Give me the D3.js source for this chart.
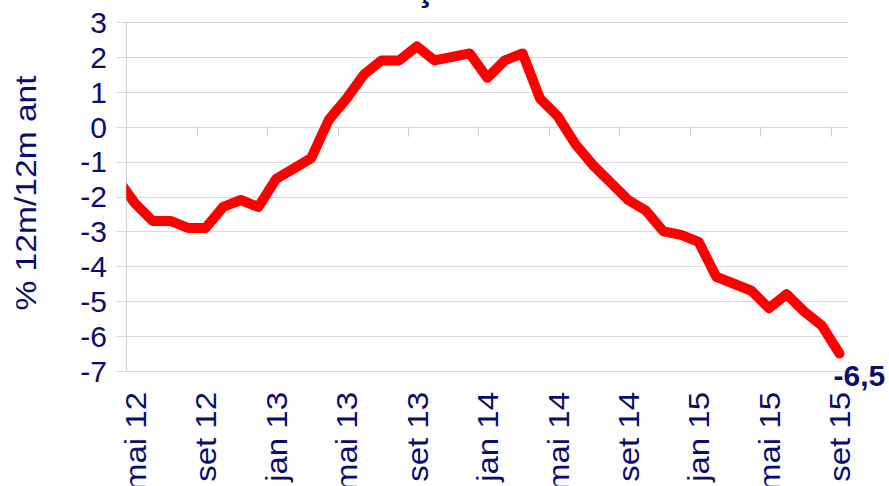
<!DOCTYPE html>
<html>
<head>
<meta charset="utf-8">
<script src="https://cdn.jsdelivr.net/npm/d3@7"></script>
<style>
  body { margin: 0; background: #fff; }
  svg { display: block; font-family: Arial, "Liberation Sans", sans-serif; }
  .grid line { stroke: #dadada; stroke-width: 1; }
  .axis-line { stroke: #cfcfcf; stroke-width: 1; }
  .txt { fill: #0c0c6e; }
</style>
</head>
<body>
<svg width="889" height="486"></svg>
<script>
// month-by-month series, starting abr 12 (first point sits before the axis and gets clipped)
const firstIndex = -1;
const values = [
  -1.5,
  -2.2, -2.7, -2.7, -2.9, -2.9, -2.3, -2.1, -2.3,
  -1.5, -1.2, -0.9, 0.2, 0.8, 1.5, 1.9, 1.9,
  2.3, 1.9, 2.0, 2.1, 1.4, 1.9, 2.1, 0.8,
  0.3, -0.5, -1.1, -1.6, -2.1, -2.4, -3.0, -3.1,
  -3.3, -4.3, -4.5, -4.7, -5.2, -4.8, -5.3, -5.7,
  -6.5
];
// labels every 4 months, index 0 = mai 12
const tickLabels = ['mai 12', 'set 12', 'jan 13', 'mai 13', 'set 13', 'jan 14',
                    'mai 14', 'set 14', 'jan 15', 'mai 15', 'set 15'];
const yTicks = [3, 2, 1, 0, -1, -2, -3, -4, -5, -6, -7];
const titleText = 'Produção Industrial';
const yTitle = '% 12m/12m ant';
const lastLabel = '-6,5';

function drawChart () {
  const svg = d3.select('svg');
  const m = {left: 126.3, right: 848.3, top: 22, bottom: 371};
  const nMonths = 41;

  const x = d3.scaleLinear().domain([-0.5, nMonths - 0.5]).range([m.left, m.right]);
  const y = d3.scaleLinear().domain([-7, 3]).range([m.bottom, m.top]);

  const data = values.map((v, i) => ({i: i + firstIndex, v: v}));

  // title, sits above the picture: only the cedilla reaches in
  svg.append('text')
    .attr('class', 'txt')
    .attr('x', 311).attr('y', -0.5)
    .attr('font-size', 36).attr('font-weight', 'bold')
    .text(titleText);

  // horizontal gridlines
  svg.append('g').attr('class', 'grid')
    .selectAll('line')
    .data(yTicks).enter()
    .append('line')
    .attr('x1', m.left - 10).attr('x2', m.right)
    .attr('y1', d => Math.round(y(d)) + 0.5)
    .attr('y2', d => Math.round(y(d)) + 0.5);

  // vertical axis line
  svg.append('line').attr('class', 'axis-line')
    .attr('x1', Math.round(m.left) + 0.5).attr('x2', Math.round(m.left) + 0.5)
    .attr('y1', m.top).attr('y2', m.bottom);

  // tick marks on the zero line, between month slots
  const tickPos = d3.range(3.5, nMonths - 0.5, 4);
  svg.append('g')
    .selectAll('line')
    .data(tickPos).enter()
    .append('line').attr('class', 'axis-line')
    .attr('x1', d => Math.round(x(d)) + 0.5).attr('x2', d => Math.round(x(d)) + 0.5)
    .attr('y1', y(0)).attr('y2', y(0) + 10);

  // y tick labels
  svg.append('g')
    .selectAll('text')
    .data(yTicks).enter()
    .append('text').attr('class', 'txt')
    .attr('x', 107).attr('y', d => y(d))
    .attr('dy', '0.36em')
    .attr('text-anchor', 'end')
    .attr('font-size', 30)
    .text(d => d);

  // y title
  svg.append('text').attr('class', 'txt')
    .attr('transform', 'translate(25,193) rotate(-90) scale(1.12,1)')
    .attr('dy', '0.36em')
    .attr('text-anchor', 'middle')
    .attr('font-size', 30)
    .text(yTitle);

  // x labels, rotated
  svg.append('g')
    .selectAll('text')
    .data(tickLabels).enter()
    .append('text').attr('class', 'txt')
    .attr('transform', (d, k) => `translate(${x(k * 4)},392) rotate(-90) scale(1.1,1)`)
    .attr('dy', '0.36em')
    .attr('text-anchor', 'end')
    .attr('font-size', 30)
    .text(d => d);

  // the line
  svg.append('clipPath').attr('id', 'plot-clip')
    .append('rect')
    .attr('x', m.left).attr('y', 0)
    .attr('width', m.right - m.left + 20).attr('height', 486);

  const line = d3.line()
    .x(d => x(d.i))
    .y(d => y(d.v));

  svg.append('path')
    .datum(data)
    .attr('clip-path', 'url(#plot-clip)')
    .attr('fill', 'none')
    .attr('stroke', '#ff0000')
    .attr('stroke-width', 10)
    .attr('stroke-linejoin', 'round')
    .attr('stroke-linecap', 'round')
    .attr('d', line);

  // last value label
  const last = data[data.length - 1];
  svg.append('text').attr('class', 'txt')
    .attr('x', x(last.i) - 6).attr('y', y(last.v) + 32)
    .attr('font-size', 30).attr('font-weight', 'bold')
    .text(lastLabel);
}

drawChart();
</script>
</body>
</html>
